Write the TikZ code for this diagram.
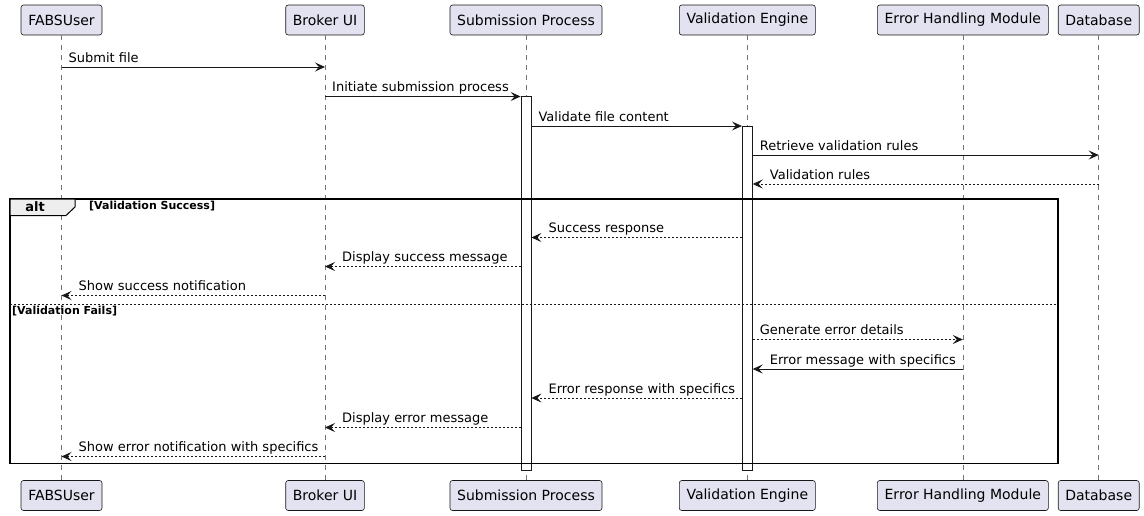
\documentclass[tikz,border=0pt]{standalone}
\usepackage{fontspec}
\setmainfont{DejaVu Sans}
\usetikzlibrary{arrows.meta}
\definecolor{partfill}{HTML}{E2E2F0}
\definecolor{ink}{HTML}{181818}
\definecolor{tabfill}{HTML}{EEEEEE}
\begin{document}
\begin{tikzpicture}[x=1pt,y=-1pt,
  part/.style={draw=ink, fill=partfill, rounded corners=2.5pt, line width=0.6pt,
    minimum height=30pt, inner sep=0pt, font=\fontsize{14}{16}\selectfont},
  life/.style={draw=ink!60, line width=0.6pt, dash pattern=on 5pt off 5pt},
  act/.style={draw=ink, fill=white, line width=0.8pt, inner sep=0pt, minimum width=10pt},
  msg/.style={draw=ink, line width=0.8pt, -{Stealth[length=10pt,width=9pt,inset=4pt]}},
  rmsg/.style={msg, dash pattern=on 2pt off 2pt},
  lbl/.style={anchor=base west, inner sep=0pt, font=\fontsize{13}{15}\selectfont},
  guard/.style={anchor=west, inner sep=0pt, font=\fontsize{11}{13}\selectfont\bfseries},
]
\useasboundingbox (0,0) rectangle (1144,515);
% participants (top)
\node[part, minimum width=81pt]  (u) at (61.5,20) {FABSUser};
\node[part, minimum width=78.6pt] (b) at (325,20) {Broker UI};
\node[part, minimum width=152pt] (s) at (526,20) {Submission Process};
\node[part, minimum width=136pt] (v) at (747.3,20) {Validation Engine};
\node[part, minimum width=171pt] (e) at (962.8,20) {Error Handling Module};
\node[part, minimum width=81pt]  (d) at (1098.7,20) {Database};
% participants (bottom)
\node[part, minimum width=81pt]  (ub) at (61.5,495.5) {FABSUser};
\node[part, minimum width=78.6pt] (bb) at (325,495.5) {Broker UI};
\node[part, minimum width=152pt] (sb) at (526,495.5) {Submission Process};
\node[part, minimum width=136pt] (vb) at (747.3,495.5) {Validation Engine};
\node[part, minimum width=171pt] (eb) at (962.8,495.5) {Error Handling Module};
\node[part, minimum width=81pt]  (db) at (1098.7,495.5) {Database};
% lifelines
\foreach \t/\bt in {u/ub,b/bb,s/sb,v/vb,e/eb,d/db}
  \draw[life] (\t.south) -- (\bt.north);
% activations
\node[act, minimum height=374pt] (as) at (526,283) {};
\node[act, minimum height=344pt] (av) at (747.3,298) {};
% alt frame
\draw[line width=1.4pt, draw=black] (10,199) rectangle (1058,463.5);
\draw[line width=1pt, fill=tabfill] (10,199) -- (75,199) -- (75,207) -- (66,215.5) -- (10,215.5) -- cycle;
\node[inner sep=0pt, font=\fontsize{13}{15}\selectfont\bfseries] (altlbl) at (35,207) {alt};
\node[guard] (g1) at (89,206) {[Validation Success]};
\draw[draw=ink, line width=0.6pt, dash pattern=on 2pt off 2pt] (10,304) -- (1058,304);
\node[guard] (g2) at (12,311) {[Validation Fails]};
% messages
\draw[msg] (u |- 0,67) -- (b |- 0,67);
\path (u |- 0,67) ++(7,-5) node[lbl] (m1) {Submit file};
\draw[msg] (b |- 0,96.5) -- (as.west |- 0,96.5);
\path (b |- 0,96.5) ++(7,-5) node[lbl] (m2) {Initiate submission process};
\draw[msg] (as.east |- 0,126) -- (av.west |- 0,126);
\path (as.east |- 0,126) ++(7,-5) node[lbl] (m3) {Validate file content};
\draw[msg] (av.east |- 0,155) -- (d |- 0,155);
\path (av.east |- 0,155) ++(7,-5) node[lbl] (m4) {Retrieve validation rules};
\draw[rmsg] (d |- 0,184) -- (av.east |- 0,184);
\path (av.east |- 0,184) ++(17,-5) node[lbl] (m5) {Validation rules};
\draw[rmsg] (av.west |- 0,237.5) -- (as.east |- 0,237.5);
\path (as.east |- 0,237.5) ++(17,-5) node[lbl] (m6) {Success response};
\draw[rmsg] (as.west |- 0,266.5) -- (b |- 0,266.5);
\path (b |- 0,266.5) ++(17,-5) node[lbl] (m7) {Display success message};
\draw[rmsg] (b |- 0,295.5) -- (u |- 0,295.5);
\path (u |- 0,295.5) ++(17,-5) node[lbl] (m8) {Show success notification};
\draw[rmsg] (av.east |- 0,339.5) -- (e |- 0,339.5);
\path (av.east |- 0,339.5) ++(7,-5) node[lbl] (m9) {Generate error details};
\draw[msg] (e |- 0,369) -- (av.east |- 0,369);
\path (av.east |- 0,369) ++(17,-5) node[lbl] (m10) {Error message with specifics};
\draw[rmsg] (av.west |- 0,398) -- (as.east |- 0,398);
\path (as.east |- 0,398) ++(17,-5) node[lbl] (m11) {Error response with specifics};
\draw[rmsg] (as.west |- 0,427.5) -- (b |- 0,427.5);
\path (b |- 0,427.5) ++(17,-5) node[lbl] (m12) {Display error message};
\draw[rmsg] (b |- 0,456.5) -- (u |- 0,456.5);
\path (u |- 0,456.5) ++(17,-5) node[lbl] (m13) {Show error notification with specifics};
\end{tikzpicture}
\end{document}
